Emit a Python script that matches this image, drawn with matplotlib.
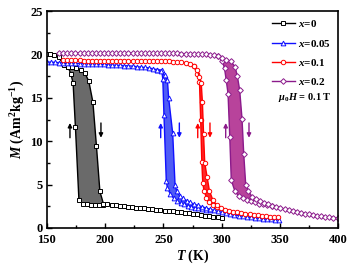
import numpy as np
import matplotlib
matplotlib.use("Agg")
import matplotlib.pyplot as plt
from matplotlib.ticker import MultipleLocator

plt.rcParams["font.family"] = "Liberation Serif"
plt.rcParams["font.weight"] = "bold"
plt.rcParams["mathtext.fontset"] = "custom"
plt.rcParams["mathtext.it"] = "Liberation Serif:italic:bold"
plt.rcParams["mathtext.rm"] = "Liberation Serif:bold"
plt.rcParams["mathtext.bf"] = "Liberation Serif:bold"

# x = 0 (heating / cooling)
T0_heat = [150, 153, 156, 160, 164.5, 168, 171.5, 175, 179, 182.5, 186, 189.5, 192.5, 195.5, 198.5,
           202, 205.5, 209, 212.5, 216, 219.5, 223, 226.5, 230, 233.5, 237, 240.5, 244, 247.5, 251,
           254.5, 258, 261.5, 265, 268.5, 272, 275.5, 279, 282.5, 286, 289.5, 293, 296.5, 300]
M0_heat = [20.1, 20.0, 19.9, 19.7, 18.8, 18.6, 18.5, 18.4, 18.2, 17.9, 16.9, 14.5, 9.5, 4.2, 2.8,
           2.7, 2.65, 2.6, 2.55, 2.5, 2.45, 2.4, 2.35, 2.3, 2.25, 2.2, 2.15, 2.1, 2.05, 2.0,
           1.95, 1.9, 1.85, 1.8, 1.75, 1.7, 1.64, 1.58, 1.5, 1.43, 1.36, 1.29, 1.2, 1.1]
T0_cool = [168, 170.5, 172.5, 174.5, 177.5, 181, 184.5, 188, 191.5, 195, 198.5]
M0_cool = [18.6, 17.8, 16.7, 11.6, 3.2, 2.8, 2.7, 2.65, 2.6, 2.6, 2.6]

# x = 0.05
T1_heat = [150, 153.5, 157, 160.5, 164, 167.5, 171, 174.5, 178, 181.5, 185, 188.5, 192, 195.5, 199,
           202.5, 206, 209.5, 213, 216.5, 220, 223.5, 227, 230.5, 234, 237.5, 241, 244.5, 248,
           251, 253.5, 254.5, 258, 260, 261.5, 264, 267, 270, 273, 276,
           279.5, 283, 286.5, 290, 293.5, 297, 300.5, 304, 307.5, 311, 314.5, 318, 321.5, 325,
           328.5, 332, 335.5, 339, 342.5, 346, 349.5]
M1_heat = [19.15, 19.1, 19.1, 19.05, 19.05, 19.0, 19.0, 19.0, 18.95, 18.95, 18.9, 18.9, 18.9, 18.85,
           18.85, 18.8, 18.8, 18.75, 18.75, 18.7, 18.7, 18.65, 18.6, 18.55, 18.5, 18.45, 18.35,
           18.25, 18.1,
           17.6, 17.0, 15.0, 10.9, 5.0, 4.2, 3.7, 3.4, 3.15, 2.95, 2.75,
           2.6, 2.45, 2.3, 2.15, 2.02, 1.9, 1.8, 1.7, 1.6, 1.5, 1.42, 1.35, 1.28, 1.2, 1.15,
           1.1, 1.05, 1.0, 0.97, 0.94, 0.92]
T1_cool = [244.5, 248.5, 249.5, 250.5, 252.5, 253.5, 256, 259, 262, 265, 268, 271, 274, 277, 280,
           283.5, 287, 290]
M1_cool = [18.25, 18.2, 17.2, 13.0, 5.4, 4.6, 3.9, 3.4, 3.05, 2.85, 2.7, 2.55, 2.45, 2.35, 2.3,
           2.2, 2.12, 2.1]

# x = 0.1
T2_heat = [164, 167.5, 171, 174.5, 178, 181.5, 185, 188.5, 192, 195.5, 199, 202.5, 206, 209.5, 213,
           216.5, 220, 223.5, 227, 230.5, 234, 237.5, 241, 244.5, 248, 251.5, 255, 258.5, 262,
           265.5, 269, 272.5,
           276, 279, 281, 282.5, 283.5, 284.5, 285.5, 287.5, 289.5, 292.5,
           296, 299.5, 303, 306.5, 310, 313.5, 317, 320.5, 324, 327.5, 331, 334.5, 338, 341.5,
           345, 348.5]
M2_heat = [19.35, 19.35, 19.35, 19.35, 19.35, 19.3, 19.3, 19.3, 19.3, 19.3, 19.3, 19.3, 19.3, 19.3,
           19.3, 19.3, 19.3, 19.25, 19.25, 19.25, 19.25, 19.25, 19.25, 19.2, 19.2, 19.2, 19.2,
           19.15, 19.15, 19.1, 19.05, 18.95,
           18.7, 18.2, 17.4, 16.7, 14.5, 10.8, 7.5, 5.9, 4.3, 3.2,
           2.6, 2.3, 2.1, 1.98, 1.88, 1.8, 1.72, 1.65, 1.58, 1.52, 1.46, 1.41, 1.36, 1.31,
           1.27, 1.23]
T2_cool = [276, 279, 281, 282, 283, 283.8, 285, 287, 289.5, 292.5, 296]
M2_cool = [18.7, 17.8, 16.8, 12.5, 7.6, 5.2, 4.2, 3.5, 3.0, 2.6, 2.45]

# x = 0.2
T3_heat = [160.5, 164, 167.5, 171, 174.5, 178, 181.5, 185, 188.5, 192, 195.5, 199, 202.5, 206,
           209.5, 213, 216.5, 220, 223.5, 227, 230.5, 234, 237.5, 241, 244.5, 248, 251.5, 255,
           258.5, 262, 265.5, 269, 272.5, 276, 279.5, 283, 286.5, 290, 293.5, 297,
           300.5, 304, 308, 311.5, 313.5, 315.5, 317.5, 319, 320.7, 323,
           326, 329.5, 333, 336.5, 340, 343.5, 347, 350.5, 354, 357.5, 361, 364.5, 368, 371.5,
           375, 378.5, 382, 385.5, 389, 392.5, 396, 399.5]
M3_heat = [20.15, 20.15, 20.15, 20.15, 20.15, 20.15, 20.15, 20.15, 20.15, 20.15,
           20.15, 20.15, 20.15, 20.15, 20.15, 20.15, 20.15, 20.15, 20.15, 20.15,
           20.15, 20.15, 20.15, 20.15, 20.15, 20.15, 20.15, 20.15, 20.15, 20.15,
           20.1, 20.1, 20.1, 20.1, 20.1, 20.05, 20.0, 19.95, 19.9, 19.8,
           19.6, 19.4, 19.2, 18.6, 17.5, 15.9, 12.6, 8.5, 4.95, 4.3,
           3.6, 3.3, 3.1, 2.9, 2.72, 2.56, 2.42, 2.3, 2.18, 2.06, 1.95, 1.84, 1.74, 1.65,
           1.56, 1.48, 1.41, 1.34, 1.28, 1.22, 1.16, 1.1]
T3_cool = [297, 300.5, 302.5, 304, 305.5, 307, 308.3, 311.5, 314.5, 318, 321.5, 325, 328.5, 332,
           335.5, 339, 343.5]
M3_cool = [19.8, 19.3, 18.4, 17.0, 15.5, 10.5, 5.5, 4.2, 3.7, 3.4, 3.2, 3.05, 2.95, 2.8,
           2.7, 2.62, 2.54]

labels = [r"$x$=0", r"$x$=0.05", r"$x$=0.1", r"$x$=0.2"]
# arrow positions (T) for cooling (up) and heating (down)
arrow_up = [169.8, 247.7, 279.5, 303.5]
arrow_down = [196.4, 263.7, 290, 323.5]

series = [(T0_heat, M0_heat, T0_cool, M0_cool),
          (T1_heat, M1_heat, T1_cool, M1_cool),
          (T2_heat, M2_heat, T2_cool, M2_cool),
          (T3_heat, M3_heat, T3_cool, M3_cool)]
line_colors = ["black", "#1010ff", "#ff0000", "#8b1a8b"]
fill_colors = ["#6a6a6a", "#4f5cf5", "#ff2a2a", "#b8439b"]
markers = ["s", "^", "o", "D"]
msizes = [3.0, 3.4, 3.2, 2.9]

fig = plt.figure(figsize=(3.5, 2.65), dpi=100)
ax = fig.add_axes([0.134, 0.14, 0.832, 0.818])

for (th, mh, tc, mc), lc, fc, mk, ms, lab in zip(series, line_colors, fill_colors,
                                                 markers, msizes, labels):
    th_a, mh_a = np.array(th), np.array(mh)
    sel = (th_a >= tc[0]) & (th_a <= tc[-1])
    ax.fill(np.r_[th_a[sel], tc[::-1]], np.r_[mh_a[sel], mc[::-1]],
            color=fc, lw=0, zorder=1)
    ax.plot(tc, mc, color=lc, lw=1.0, marker=mk, ms=ms, mfc="white",
            mec=lc, mew=0.7, zorder=2)
    ax.plot(th, mh, color=lc, lw=1.0, marker=mk, ms=ms, mfc="white",
            mec=lc, mew=0.7, zorder=2, label=lab)

for tu, td, lc in zip(arrow_up, arrow_down, line_colors):
    ax.annotate("", xy=(tu, 12.1), xytext=(tu, 10.4),
                arrowprops=dict(arrowstyle="-|>", color=lc, lw=1.0, mutation_scale=6,
                                shrinkA=0, shrinkB=0))
    ax.annotate("", xy=(td, 10.4), xytext=(td, 12.1),
                arrowprops=dict(arrowstyle="-|>", color=lc, lw=1.0, mutation_scale=6,
                                shrinkA=0, shrinkB=0))

ax.set_xlim(150, 400)
ax.set_ylim(0, 25)
ax.xaxis.set_major_locator(MultipleLocator(50))
ax.xaxis.set_minor_locator(MultipleLocator(25))
ax.yaxis.set_major_locator(MultipleLocator(5))
ax.yaxis.set_minor_locator(MultipleLocator(2.5))
ax.tick_params(which="both", direction="in", labelsize=9, width=1.0)
ax.tick_params(which="major", length=3.5)
ax.tick_params(which="minor", length=2)
ax.tick_params(axis="x", pad=4.5)
ax.tick_params(axis="y", pad=3)
for sp in ax.spines.values():
    sp.set_linewidth(1.2)

ax.set_xlabel(r"$T$ (K)", fontsize=10, fontweight="bold", labelpad=1)
ax.set_ylabel(r"$M$ (Am$^2$kg$^{-1}$)", fontsize=10, fontweight="bold", labelpad=2)

leg = ax.legend(loc="upper right", frameon=False, fontsize=8, handlelength=2.0,
                handletextpad=0.3, labelspacing=0.75, borderaxespad=0.25)
ax.text(0.795, 0.60, r"$\mu_0H$ = 0.1 T", transform=ax.transAxes, fontsize=7.5,
        fontweight="bold", ha="left", va="center")

fig.savefig("out.png", dpi=100)
